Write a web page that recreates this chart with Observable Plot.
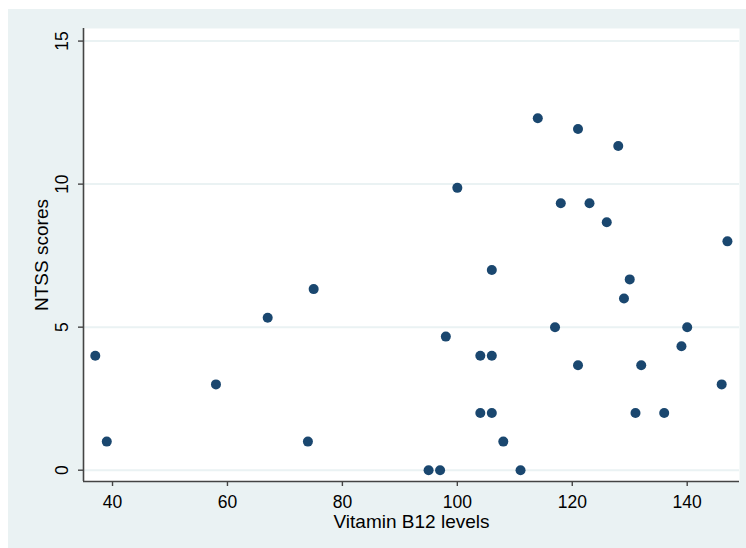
<!DOCTYPE html>
<html><head><meta charset="utf-8">
<script src="https://cdn.jsdelivr.net/npm/d3@7"></script>
<script src="https://cdn.jsdelivr.net/npm/@observablehq/plot@0.6"></script>
<style>
html,body{margin:0;padding:0;background:#fff;}
</style>
</head><body><div id="chart"></div>
<script>
const vitaminB12 = [37,39,58,67,75,74,95,97,98,100,104,106,104,106,106,108,111,114,117,118,121,121,123,126,128,129,130,131,132,136,139,140,146,147];
const ntssScores = [4,1,3,5.33,6.33,1,0,0,4.67,9.87,4,4,2,2,7,1,0,12.3,5,9.33,11.93,3.67,9.33,8.67,11.33,6,6.67,2,3.67,2,4.33,5,3,8];
const xTicks = [40,60,80,100,120,140];
const yTicks = [0,5,10,15];
const xLabel = "Vitamin B12 levels";
const yLabel = "NTSS scores";

const data = vitaminB12.map((x,i)=>({x, y: ntssScores[i]}));
const xDomain = [34.95, 149.1];
const yDomain = [-0.395, 15.44];
const axisColor = "#444";
const font = "'Liberation Sans', Arial, sans-serif";

const chart = Plot.plot({
  width: 746, height: 548,
  marginLeft: 83, marginRight: 7, marginTop: 28, marginBottom: 67,
  style: {fontFamily: font, fontSize: "18px", color: "#000", background: "linear-gradient(#eaf2f3,#eaf2f3) no-repeat 8px 9px / 738px 539px, #fff"},
  x: {domain: xDomain, ticks: xTicks},
  y: {domain: yDomain, ticks: yTicks},
  marks: [
    Plot.frame({fill: "#fff", stroke: null}),
    Plot.gridY(yTicks, {stroke: "#eaf2f3", strokeOpacity: 1, strokeWidth: 2}),
    Plot.axisX(xTicks, {tickSize: 5, tickPadding: 9, stroke: axisColor, strokeWidth: 1.4, label: null, fontSize: 17.5}),
    Plot.axisY(yTicks, {tickSize: 5, tickPadding: 11, tickRotate: -90, stroke: axisColor, strokeWidth: 1.4, label: null, fontSize: 17.5}),
    Plot.ruleY([yDomain[0]], {stroke: axisColor, strokeWidth: 1.6}),
    Plot.ruleX([xDomain[0]], {stroke: axisColor, strokeWidth: 1.6}),
    Plot.dot(data, {x: "x", y: "y", r: 5, fill: "#1a476f"}),
    Plot.text([xLabel], {frameAnchor: "bottom", text: d => d, textAnchor: "middle", lineAnchor: "bottom", dy: 46, fontSize: 19}),
    Plot.text([yLabel], {frameAnchor: "left", text: d => d, textAnchor: "middle", rotate: -90, lineAnchor: "bottom", dx: -36, fontSize: 19})
  ]
});
document.getElementById("chart").appendChild(chart);
</script>
</body></html>
